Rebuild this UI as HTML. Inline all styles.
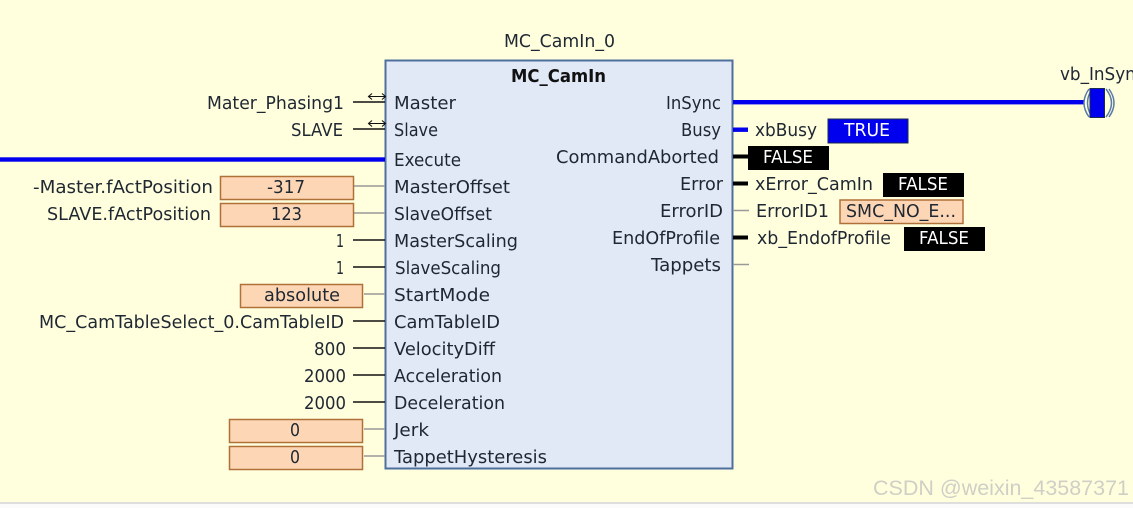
<!DOCTYPE html>
<html><head><meta charset="utf-8"><style>
html,body{margin:0;padding:0;width:1133px;height:508px;overflow:hidden;background:#ffffde}
svg{display:block}
text{font-family:"DejaVu Sans","Liberation Sans",sans-serif;font-size:18px;fill:#1f2732}
.w{fill:#fff}
.all{filter:blur(0.35px)}
</style></head><body>
<svg width="1133" height="508" viewBox="0 0 1133 508" xmlns="http://www.w3.org/2000/svg">
<rect width="1133" height="508" fill="#ffffde"/>
<rect y="502" width="1133" height="2" fill="#dedede"/>
<rect y="504" width="1133" height="4" fill="#fbfbfb"/>
<g class="all">
<!-- block -->
<rect x="385.5" y="60.5" width="347" height="408" fill="#e1e8f6" stroke="#4f6f9f" stroke-width="2"/>

<!-- left connectors -->
<g stroke="#111" stroke-width="1.600">
<path d="M353 102H385M353 129H385M353 240H385M353 267H385M353 321H385M353 348H385M353 375H385M353 402H385"/>
</g>
<g stroke="#999" stroke-width="1.600">
<path d="M354 186H385M354 213H385M364 294H385M364 429H385M364 456H385"/>
</g>
<g stroke="#111" stroke-width="1.100" fill="none">
<path d="M369 96.500H385M372 93.500L368.500 96.500L372 99.500M382 93.500L385.500 96.500L382 99.500"/>
<path d="M369 123.500H385M372 120.500L368.500 123.500L372 126.500M382 120.500L385.500 123.500L382 126.500"/>
</g>
<rect x="0" y="157.300" width="385" height="4.400" fill="#0000ee"/>

<!-- right connectors -->
<rect x="733" y="100" width="351" height="4.400" fill="#0000ee"/>
<rect x="733" y="127.500" width="15" height="4.400" fill="#0000ee"/>
<rect x="733" y="154.500" width="15" height="4" fill="#000"/>
<rect x="733" y="181.500" width="15" height="4" fill="#000"/>
<rect x="733" y="235.500" width="15" height="4" fill="#000"/>
<path d="M733 210.500H749M733 264.500H749" stroke="#999" stroke-width="1.400"/>

<!-- coil -->
<g fill="none" stroke="#5a7aa8" stroke-width="1.500">
<path d="M1089 89Q1079 103 1089 117"/><path d="M1092 89Q1083 103 1092 117"/>
<path d="M1106 89Q1117 103 1106 117"/><path d="M1109 89Q1119 103 1109 117"/>
</g>
<rect x="1090" y="88.500" width="14.500" height="29" fill="#0000ee" stroke="#1a2a50" stroke-width="1"/>

<!-- value boxes -->
<g fill="#fdd7b5" stroke="#b0703a" stroke-width="1.500">
<rect x="220.500" y="176.500" width="133" height="23"/>
<rect x="220.500" y="203.500" width="133" height="23"/>
<rect x="240.500" y="284.500" width="122" height="23"/>
<rect x="229.500" y="419.500" width="133" height="23"/>
<rect x="229.500" y="446.500" width="133" height="23"/>
<rect x="840" y="200" width="123" height="23.500"/>
</g>
<rect x="828" y="119" width="80" height="24" fill="#0000ee" stroke="#1a2a50"/>
<rect x="748" y="146" width="81" height="24" fill="#000"/>
<rect x="883" y="173" width="81" height="24" fill="#000"/>
<rect x="904" y="227" width="81" height="24" fill="#000"/>

<!-- top labels -->
<text x="504" y="47" textLength="111" lengthAdjust="spacingAndGlyphs">MC_CamIn_0</text>
<text x="511" y="82" textLength="95" lengthAdjust="spacingAndGlyphs" font-weight="bold" style="fill:#111">MC_CamIn</text>
<text x="1060" y="80" textLength="85" lengthAdjust="spacingAndGlyphs">vb_InSync</text>

<!-- left external labels -->
<text x="207" y="109" textLength="137" lengthAdjust="spacingAndGlyphs">Mater_Phasing1</text>
<text x="291" y="136" textLength="52" lengthAdjust="spacingAndGlyphs">SLAVE</text>
<text x="33" y="193" textLength="180" lengthAdjust="spacingAndGlyphs">-Master.fActPosition</text>
<text x="47" y="220" textLength="164" lengthAdjust="spacingAndGlyphs">SLAVE.fActPosition</text>
<text x="336" y="247" textLength="8" lengthAdjust="spacingAndGlyphs">1</text>
<text x="336" y="274" textLength="8" lengthAdjust="spacingAndGlyphs">1</text>
<text x="39" y="328" textLength="305" lengthAdjust="spacingAndGlyphs">MC_CamTableSelect_0.CamTableID</text>
<text x="314" y="355" textLength="32" lengthAdjust="spacingAndGlyphs">800</text>
<text x="304" y="382" textLength="42" lengthAdjust="spacingAndGlyphs">2000</text>
<text x="304" y="409" textLength="42" lengthAdjust="spacingAndGlyphs">2000</text>

<!-- box values -->
<text x="267" y="193" textLength="38" lengthAdjust="spacingAndGlyphs">-317</text>
<text x="271" y="220" textLength="31" lengthAdjust="spacingAndGlyphs">123</text>
<text x="264" y="301" textLength="76" lengthAdjust="spacingAndGlyphs">absolute</text>
<text x="290" y="436" textLength="10" lengthAdjust="spacingAndGlyphs">0</text>
<text x="290" y="463" textLength="10" lengthAdjust="spacingAndGlyphs">0</text>

<!-- inputs -->
<text x="394" y="109" textLength="62" lengthAdjust="spacingAndGlyphs">Master</text>
<text x="394" y="136" textLength="44" lengthAdjust="spacingAndGlyphs">Slave</text>
<text x="394" y="166" textLength="67" lengthAdjust="spacingAndGlyphs">Execute</text>
<text x="394" y="193" textLength="116" lengthAdjust="spacingAndGlyphs">MasterOffset</text>
<text x="394" y="220" textLength="98" lengthAdjust="spacingAndGlyphs">SlaveOffset</text>
<text x="394" y="247" textLength="124" lengthAdjust="spacingAndGlyphs">MasterScaling</text>
<text x="395" y="274" textLength="106" lengthAdjust="spacingAndGlyphs">SlaveScaling</text>
<text x="394" y="301" textLength="96" lengthAdjust="spacingAndGlyphs">StartMode</text>
<text x="394" y="328" textLength="106" lengthAdjust="spacingAndGlyphs">CamTableID</text>
<text x="394" y="355" textLength="101" lengthAdjust="spacingAndGlyphs">VelocityDiff</text>
<text x="394" y="382" textLength="108" lengthAdjust="spacingAndGlyphs">Acceleration</text>
<text x="394" y="409" textLength="111" lengthAdjust="spacingAndGlyphs">Deceleration</text>
<text x="394" y="436" textLength="35" lengthAdjust="spacingAndGlyphs">Jerk</text>
<text x="394" y="463" textLength="153" lengthAdjust="spacingAndGlyphs">TappetHysteresis</text>

<!-- outputs -->
<text x="666" y="109" textLength="55" lengthAdjust="spacingAndGlyphs">InSync</text>
<text x="681" y="136" textLength="40" lengthAdjust="spacingAndGlyphs">Busy</text>
<text x="556" y="163" textLength="163" lengthAdjust="spacingAndGlyphs">CommandAborted</text>
<text x="680" y="190" textLength="43" lengthAdjust="spacingAndGlyphs">Error</text>
<text x="660" y="217" textLength="63" lengthAdjust="spacingAndGlyphs">ErrorID</text>
<text x="612" y="244" textLength="108" lengthAdjust="spacingAndGlyphs">EndOfProfile</text>
<text x="651" y="271" textLength="70" lengthAdjust="spacingAndGlyphs">Tappets</text>

<!-- output vars -->
<text x="755" y="136" textLength="62" lengthAdjust="spacingAndGlyphs">xbBusy</text>
<text x="755" y="190" textLength="118" lengthAdjust="spacingAndGlyphs">xError_CamIn</text>
<text x="756" y="217" textLength="73" lengthAdjust="spacingAndGlyphs">ErrorID1</text>
<text x="757" y="244" textLength="134" lengthAdjust="spacingAndGlyphs">xb_EndofProfile</text>
<text x="846" y="217" textLength="110" lengthAdjust="spacingAndGlyphs">SMC_NO_E...</text>

<text class="w" x="844" y="136" textLength="46" lengthAdjust="spacingAndGlyphs">TRUE</text>
<text class="w" x="763" y="163" textLength="50" lengthAdjust="spacingAndGlyphs">FALSE</text>
<text class="w" x="898" y="190" textLength="50" lengthAdjust="spacingAndGlyphs">FALSE</text>
<text class="w" x="919" y="244" textLength="50" lengthAdjust="spacingAndGlyphs">FALSE</text>

<!-- watermark -->
<text x="873" y="495" textLength="256" lengthAdjust="spacingAndGlyphs" style="font-family:'Liberation Sans',sans-serif;font-size:21px;fill:#cfcfc6">CSDN @weixin_43587371</text>
</g>
</svg>
</body></html>
